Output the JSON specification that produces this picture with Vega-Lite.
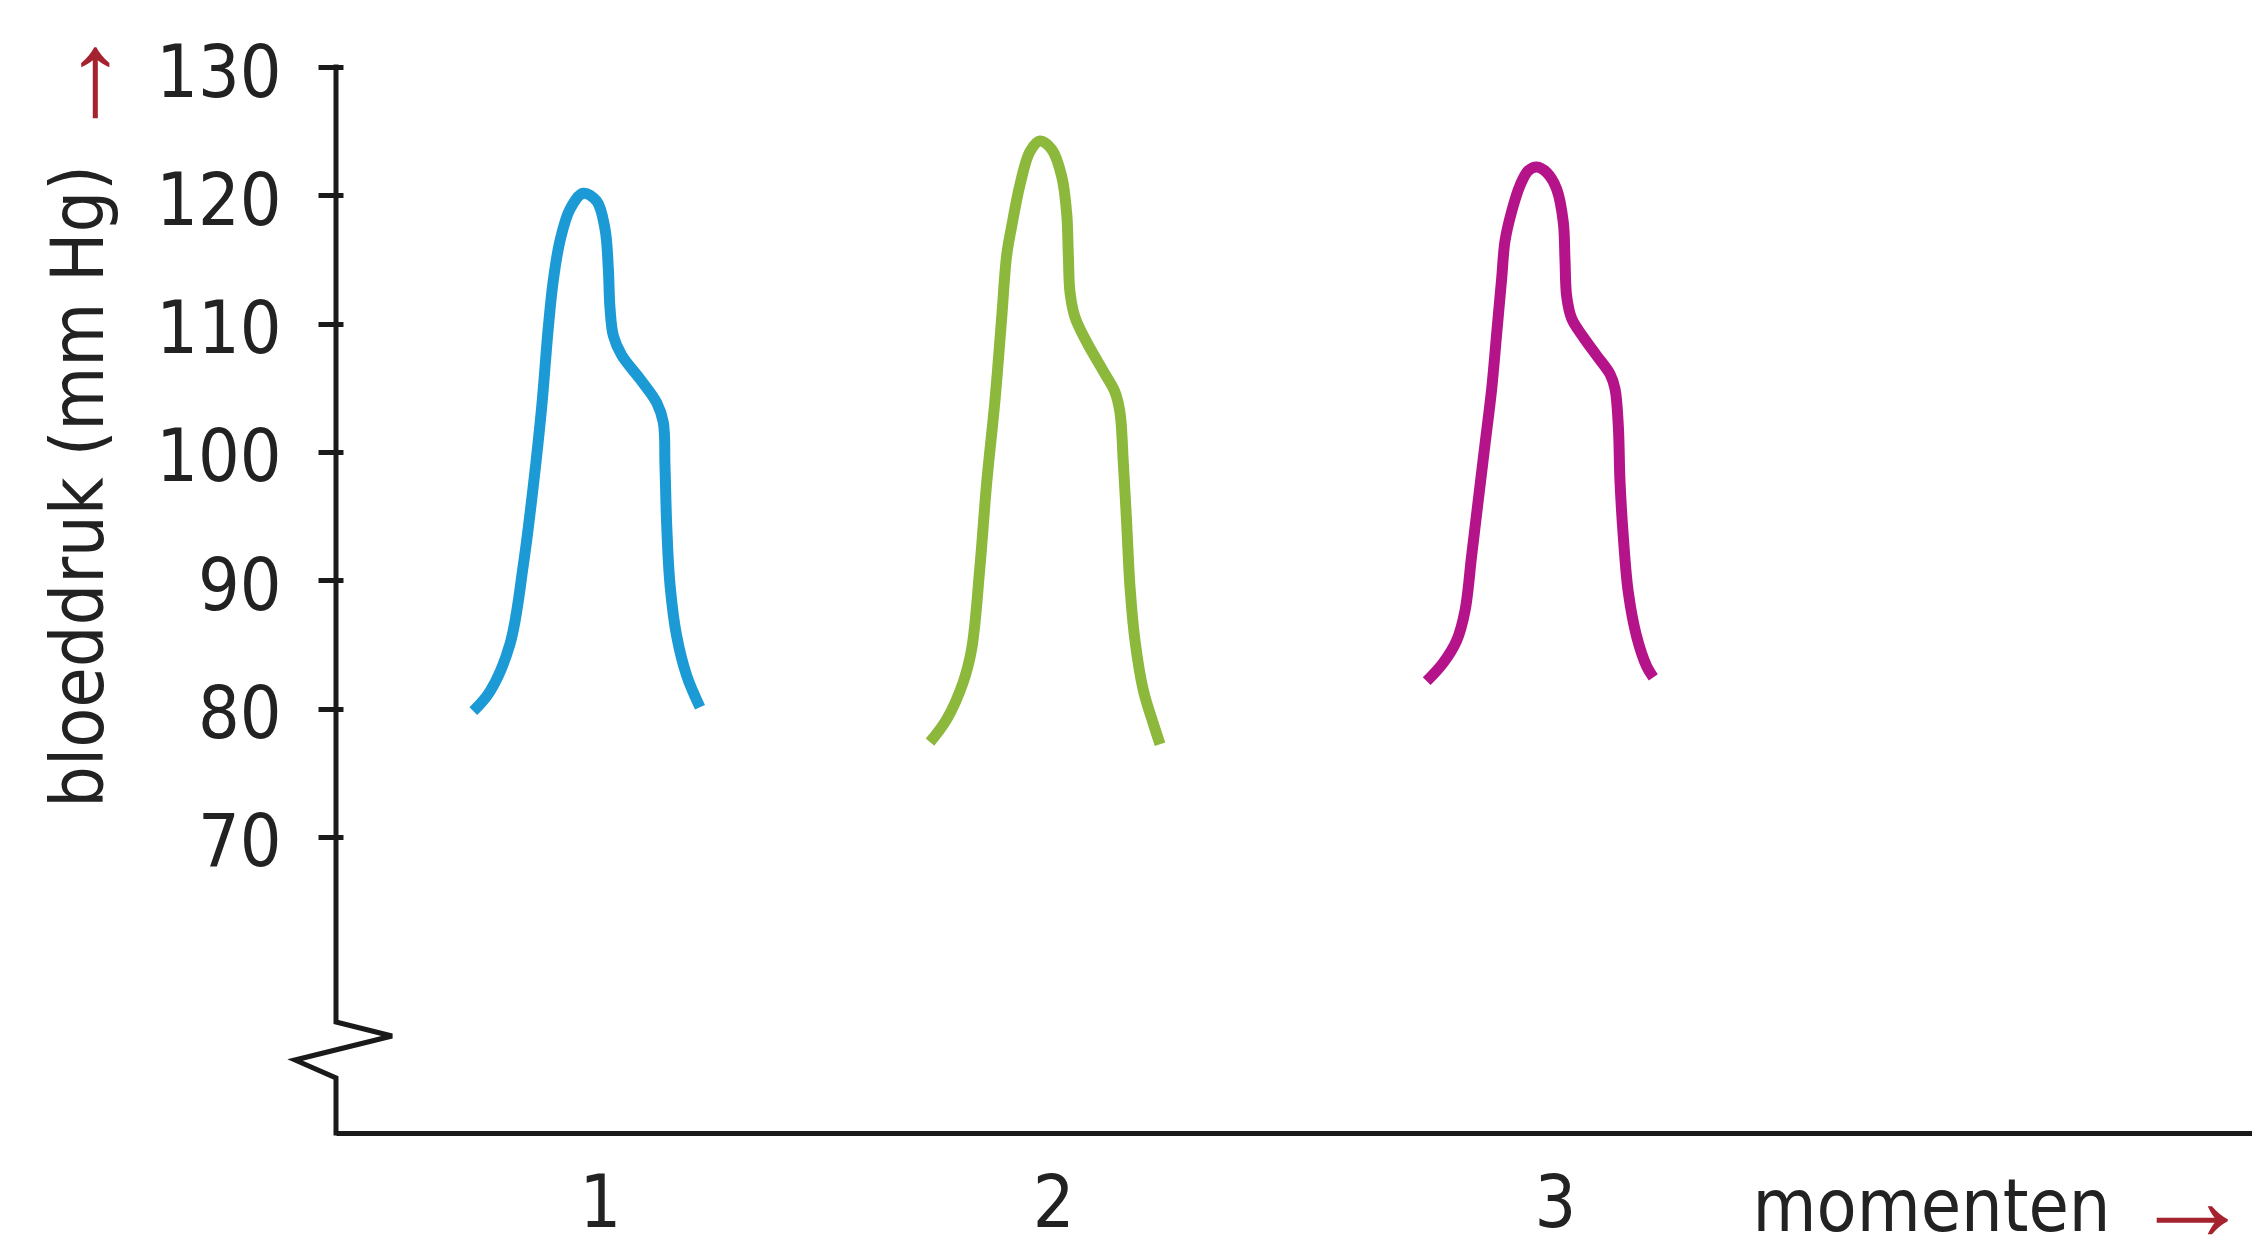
{
  "$schema": "https://vega.github.io/schema/vega-lite/v6.json",
  "autosize": {"type": "none"},
  "padding": {"left": 336, "top": 67, "right": 0, "bottom": 109},
  "width": 1916,
  "height": 1066,
  "background": "white",
  "config": {"view": {"stroke": null}},
  "datasets": {
    "curves": [
      {"moment": "1", "t": 0.7347, "v": 79.80},
      {"moment": "1", "t": 0.7696, "v": 81.34},
      {"moment": "1", "t": 0.8115, "v": 85.04},
      {"moment": "1", "t": 0.8394, "v": 91.19},
      {"moment": "1", "t": 0.8603, "v": 97.36},
      {"moment": "1", "t": 0.8779, "v": 103.52},
      {"moment": "1", "t": 0.8917, "v": 109.69},
      {"moment": "1", "t": 0.9022, "v": 113.38},
      {"moment": "1", "t": 0.9162, "v": 116.46},
      {"moment": "1", "t": 0.9372, "v": 118.93},
      {"moment": "1", "t": 0.9650, "v": 120.16},
      {"moment": "1", "t": 0.9931, "v": 119.54},
      {"moment": "1", "t": 1.0105, "v": 117.38},
      {"moment": "1", "t": 1.0174, "v": 114.31},
      {"moment": "1", "t": 1.0209, "v": 111.23},
      {"moment": "1", "t": 1.0279, "v": 109.07},
      {"moment": "1", "t": 1.0455, "v": 107.53},
      {"moment": "1", "t": 1.0838, "v": 105.68},
      {"moment": "1", "t": 1.1188, "v": 103.83},
      {"moment": "1", "t": 1.1326, "v": 102.29},
      {"moment": "1", "t": 1.1361, "v": 98.90},
      {"moment": "1", "t": 1.1397, "v": 94.28},
      {"moment": "1", "t": 1.1466, "v": 89.66},
      {"moment": "1", "t": 1.1606, "v": 85.65},
      {"moment": "1", "t": 1.1816, "v": 82.57},
      {"moment": "1", "t": 1.2094, "v": 80.11},
      {"moment": "2", "t": 1.6911, "v": 77.39},
      {"moment": "2", "t": 1.7261, "v": 79.17},
      {"moment": "2", "t": 1.7608, "v": 82.08},
      {"moment": "2", "t": 1.7784, "v": 84.66},
      {"moment": "2", "t": 1.7958, "v": 91.12},
      {"moment": "2", "t": 1.8098, "v": 97.58},
      {"moment": "2", "t": 1.8272, "v": 104.04},
      {"moment": "2", "t": 1.8413, "v": 110.50},
      {"moment": "2", "t": 1.8517, "v": 115.34},
      {"moment": "2", "t": 1.8622, "v": 117.60},
      {"moment": "2", "t": 1.8796, "v": 120.84},
      {"moment": "2", "t": 1.9005, "v": 123.42},
      {"moment": "2", "t": 1.9215, "v": 124.23},
      {"moment": "2", "t": 1.9460, "v": 123.58},
      {"moment": "2", "t": 1.9669, "v": 121.48},
      {"moment": "2", "t": 1.9774, "v": 118.58},
      {"moment": "2", "t": 1.9808, "v": 115.34},
      {"moment": "2", "t": 1.9843, "v": 112.44},
      {"moment": "2", "t": 1.9948, "v": 110.50},
      {"moment": "2", "t": 2.0193, "v": 108.56},
      {"moment": "2", "t": 2.0540, "v": 106.30},
      {"moment": "2", "t": 2.0785, "v": 104.68},
      {"moment": "2", "t": 2.0890, "v": 103.07},
      {"moment": "2", "t": 2.0959, "v": 99.20},
      {"moment": "2", "t": 2.1031, "v": 94.35},
      {"moment": "2", "t": 2.1099, "v": 89.50},
      {"moment": "2", "t": 2.1204, "v": 85.30},
      {"moment": "2", "t": 2.1378, "v": 81.43},
      {"moment": "2", "t": 2.1587, "v": 78.84},
      {"moment": "2", "t": 2.1728, "v": 77.23},
      {"moment": "3", "t": 2.7313, "v": 82.14},
      {"moment": "3", "t": 2.7661, "v": 83.58},
      {"moment": "3", "t": 2.7941, "v": 85.31},
      {"moment": "3", "t": 2.8115, "v": 87.62},
      {"moment": "3", "t": 2.8255, "v": 91.94},
      {"moment": "3", "t": 2.8394, "v": 96.27},
      {"moment": "3", "t": 2.8534, "v": 100.59},
      {"moment": "3", "t": 2.8674, "v": 104.92},
      {"moment": "3", "t": 2.8779, "v": 109.24},
      {"moment": "3", "t": 2.8884, "v": 113.56},
      {"moment": "3", "t": 2.8953, "v": 116.44},
      {"moment": "3", "t": 2.9093, "v": 118.75},
      {"moment": "3", "t": 2.9267, "v": 120.77},
      {"moment": "3", "t": 2.9441, "v": 121.92},
      {"moment": "3", "t": 2.9617, "v": 122.21},
      {"moment": "3", "t": 2.9826, "v": 121.78},
      {"moment": "3", "t": 3.0036, "v": 120.48},
      {"moment": "3", "t": 3.0174, "v": 117.88},
      {"moment": "3", "t": 3.0209, "v": 115.00},
      {"moment": "3", "t": 3.0245, "v": 112.12},
      {"moment": "3", "t": 3.0350, "v": 110.39},
      {"moment": "3", "t": 3.0593, "v": 108.95},
      {"moment": "3", "t": 3.0873, "v": 107.51},
      {"moment": "3", "t": 3.1152, "v": 106.07},
      {"moment": "3", "t": 3.1257, "v": 104.92},
      {"moment": "3", "t": 3.1326, "v": 102.03},
      {"moment": "3", "t": 3.1361, "v": 97.71},
      {"moment": "3", "t": 3.1431, "v": 93.38},
      {"moment": "3", "t": 3.1535, "v": 89.06},
      {"moment": "3", "t": 3.1711, "v": 85.60},
      {"moment": "3", "t": 3.1920, "v": 83.29},
      {"moment": "3", "t": 3.2059, "v": 82.43}
    ],
    "yaxis": [
      {"i": 0, "t": 0.4471, "v": 130},
      {"i": 1, "t": 0.4471, "v": 55.58},
      {"i": 2, "t": 0.5644, "v": 54.49},
      {"i": 3, "t": 0.3613, "v": 52.62},
      {"i": 4, "t": 0.4471, "v": 51.22},
      {"i": 5, "t": 0.4471, "v": 46.93}
    ],
    "arrows": [
      {"t": 4.334, "v": 41.4, "a": 0, "label": "→"},
      {"t": -0.0911, "v": 128.75, "a": 270, "label": "→"}
    ]
  },
  "encoding": {
    "x": {
      "field": "t", "type": "quantitative",
      "scale": {"domain": [0.4471, 4.4597], "nice": false, "zero": false},
      "axis": {
        "orient": "bottom",
        "values": [1, 1.949, 3],
        "labelExpr": "round(datum.value)",
        "ticks": false, "tickSize": 0, "grid": false,
        "domain": true, "domainColor": "#1a1a1a", "domainWidth": 5,
        "labelFont": "DejaVu Sans Condensed", "labelFontSize": 73, "labelColor": "#222222",
        "labelPadding": 35, "labelBaseline": "top", "labelFlush": false, "labelOverlap": false, "labelBound": false,
        "title": "momenten",
        "titleFont": "DejaVu Sans Condensed", "titleFontSize": 73, "titleFontWeight": "normal", "titleColor": "#222222",
        "titleX": 1774, "titleY": 97, "titleAlign": "right", "titleBaseline": "alphabetic", "titleAngle": 0
      }
    },
    "y": {
      "field": "v", "type": "quantitative",
      "scale": {"domain": [46.93, 130], "nice": false, "zero": false},
      "axis": {
        "orient": "left",
        "values": [70, 80, 90, 100, 110, 120, 130],
        "domain": false, "grid": false,
        "ticks": true, "tickSize": 25, "tickWidth": 5, "tickColor": "#1a1a1a",
        "offset": -7,
        "labelFont": "DejaVu Sans Condensed", "labelFontSize": 73, "labelColor": "#222222",
        "labelPadding": 37, "labelOffset": 7, "labelAlign": "right", "labelBaseline": "middle",
        "labelFlush": false, "labelOverlap": false, "labelBound": false,
        "title": "bloeddruk (mm Hg)",
        "titleFont": "DejaVu Sans Condensed", "titleFontSize": 73, "titleFontWeight": "normal", "titleColor": "#222222",
        "titleX": -241, "titleY": 419, "titleAngle": -90, "titleAlign": "center", "titleBaseline": "alphabetic"
      }
    }
  },
  "layer": [
    {
      "data": {"name": "yaxis"},
      "mark": {"type": "line", "color": "#1a1a1a", "strokeWidth": 5, "strokeCap": "square", "strokeJoin": "miter", "clip": false},
      "encoding": {
        "order": {"field": "i", "type": "quantitative"}
      }
    },
    {
      "data": {"name": "curves"},
      "mark": {"type": "line", "interpolate": "catmull-rom", "strokeWidth": 11, "strokeCap": "butt", "strokeJoin": "round"},
      "encoding": {
        "color": {
          "field": "moment", "type": "nominal",
          "scale": {"domain": ["1", "2", "3"], "range": ["#1b9ad6", "#8cb83c", "#b5138a"]},
          "legend": null
        },
        "detail": {"field": "moment"}
      }
    },
    {
      "data": {"name": "arrows"},
      "mark": {"type": "text", "font": "Liberation Sans", "fontSize": 120, "color": "#a5222f", "align": "center", "baseline": "middle", "clip": false},
      "encoding": {
        "angle": {"field": "a", "type": "quantitative", "scale": null},
        "text": {"field": "label"}
      }
    }
  ]
}
